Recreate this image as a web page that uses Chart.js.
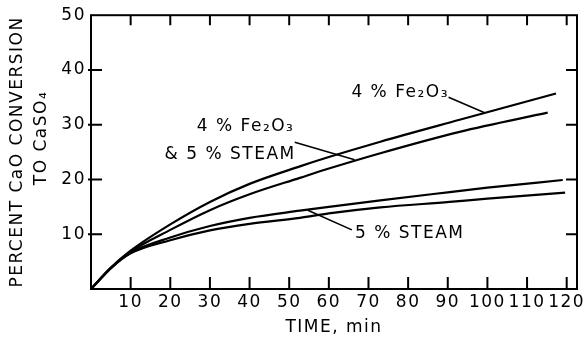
<!DOCTYPE html>
<html>
<head>
<meta charset="utf-8">
<script src="https://cdn.jsdelivr.net/npm/chart.js@4.4.1/dist/chart.umd.min.js"></script>
<style>
  html, body { margin: 0; padding: 0; background: #fff; }
  #caixa { width: 587px; height: 338px; }
</style>
</head>
<body>
<div id="caixa"><canvas id="grafico"></canvas></div>
<script>
// curvas (tempo em min, conversao em %)
const tempoFe = [0, 5, 10, 20, 30, 40, 52.7, 60, 73, 93, 117.3]
const convFe = [0, 3.9, 7.0, 11.8, 15.9, 19.2, 22.4, 24.1, 26.9, 30.9, 35.7]

const tempoFeVapor = [0, 5, 10, 20, 30, 40, 52.7, 60, 73, 93, 115.2]
const convFeVapor = [0, 3.8, 6.8, 10.8, 14.4, 17.3, 20.3, 22.0, 24.8, 28.7, 32.2]

const tempoVaporA = [0, 5, 10, 20, 30, 40, 52.7, 60, 73, 90.5, 100, 119]
const convVaporA = [0, 3.8, 6.6, 9.4, 11.5, 13.0, 14.3, 15.0, 16.2, 17.7, 18.5, 19.9]

const tempoVaporB = [0, 5, 10, 20, 30, 40, 52.7, 60, 73, 90.5, 100, 119.6]
const convVaporB = [0, 3.8, 6.5, 8.9, 10.7, 11.9, 13.0, 13.8, 14.9, 15.9, 16.5, 17.6]

const ticksX = [10, 20, 30, 40, 50, 60, 70, 80, 90, 100, 110, 120]
const ticksY = [10, 20, 30, 40, 50]

const tituloY = ['PERCENT CaO CONVERSION', 'TO CaSO₄']

// rotulos e linhas de chamada, em unidades do grafico
const rotulos = [
  { texto: '4 % Fe₂O₃', t: 78, v: 35.8 },
  { texto: '4 % Fe₂O₃', t: 39, v: 29.6 },
  { texto: '& 5 % STEAM', t: 35.1, v: 24.5 },
  { texto: '5 % STEAM', t: 80.4, v: 10.2 }
]
const chamadas = [
  [90.2, 35.0, 99.3, 32.2],
  [51.4, 26.8, 66.5, 23.6],
  [65.8, 10.8, 54.7, 14.4]
]

function pontos(tempos, valores) {
  return tempos.map(function(t, i) { return { x: t, y: valores[i] } })
}

function serie(tempos, valores) {
  return {
    data: pontos(tempos, valores),
    borderColor: '#000',
    borderWidth: 2.2,
    pointRadius: 0,
    cubicInterpolationMode: 'monotone',
    fill: false
  }
}

const fonte = '"DejaVu Sans", sans-serif'

const desenhos = {
  id: 'desenhos',
  beforeDraw(chart) {
    chart.ctx.letterSpacing = '1.5px'
  },
  afterDraw(chart) {
    const ctx = chart.ctx
    const a = chart.chartArea
    const x = chart.scales.x
    const y = chart.scales.y
    ctx.save()
    ctx.strokeStyle = '#000'
    ctx.lineWidth = 2
    ctx.strokeRect(a.left, a.top, a.right - a.left, a.bottom - a.top)

    ctx.beginPath()
    x.ticks.forEach(function(tk) {
      const px = x.getPixelForValue(tk.value)
      ctx.moveTo(px, a.bottom)
      ctx.lineTo(px, a.bottom - 12)
      ctx.moveTo(px, a.top)
      ctx.lineTo(px, a.top + 10)
    })
    y.ticks.forEach(function(tk) {
      if (tk.value >= 50) return
      const py = y.getPixelForValue(tk.value)
      ctx.moveTo(a.left - 3, py)
      ctx.lineTo(a.left + 11, py)
      ctx.moveTo(a.right, py)
      ctx.lineTo(a.right - 11, py)
    })
    ctx.stroke()

    ctx.lineWidth = 1.6
    ctx.beginPath()
    chamadas.forEach(function(c) {
      ctx.moveTo(x.getPixelForValue(c[0]), y.getPixelForValue(c[1]))
      ctx.lineTo(x.getPixelForValue(c[2]), y.getPixelForValue(c[3]))
    })
    ctx.stroke()

    ctx.fillStyle = '#000'
    ctx.font = '17px ' + fonte
    ctx.textAlign = 'center'
    ctx.textBaseline = 'middle'
    rotulos.forEach(function(r) {
      ctx.fillText(r.texto, x.getPixelForValue(r.t), y.getPixelForValue(r.v))
    })

    // titulo do eixo y, duas linhas
    ctx.translate(18, 152)
    ctx.rotate(-Math.PI / 2)
    ctx.fillText(tituloY[0], 0, 0)
    ctx.fillText(tituloY[1], 14, 24)
    ctx.restore()
  }
}

new Chart(document.getElementById('grafico'), {
  type: 'line',
  data: {
    datasets: [
      serie(tempoFe, convFe),
      serie(tempoFeVapor, convFeVapor),
      serie(tempoVaporA, convVaporA),
      serie(tempoVaporB, convVaporB)
    ]
  },
  options: {
    responsive: true,
    maintainAspectRatio: false,
    animation: false,
    layout: { padding: { top: 15, right: 10, left: 0, bottom: 0 } },
    plugins: { legend: { display: false }, tooltip: { enabled: false } },
    scales: {
      x: {
        type: 'linear',
        min: 0,
        max: 122.6,
        afterBuildTicks: function(eixo) {
          eixo.ticks = ticksX.map(function(v) { return { value: v } })
        },
        afterFit: function(eixo) { eixo.height = 49 },
        grid: { display: false, drawTicks: false },
        border: { display: false },
        ticks: { color: '#000', font: { family: fonte, size: 17 }, padding: 3, maxRotation: 0 },
        title: {
          display: true,
          text: 'TIME, min',
          color: '#000',
          font: { family: fonte, size: 17 },
          padding: { top: 0, bottom: 0 }
        }
      },
      y: {
        min: 0,
        max: 50,
        afterBuildTicks: function(eixo) {
          eixo.ticks = ticksY.map(function(v) { return { value: v } })
        },
        afterFit: function(eixo) { eixo.width = 91 },
        grid: { display: false, drawTicks: false },
        border: { display: false },
        ticks: { color: '#000', font: { family: fonte, size: 17 }, padding: 5 }
      }
    }
  },
  plugins: [desenhos]
})
</script>
</body>
</html>
